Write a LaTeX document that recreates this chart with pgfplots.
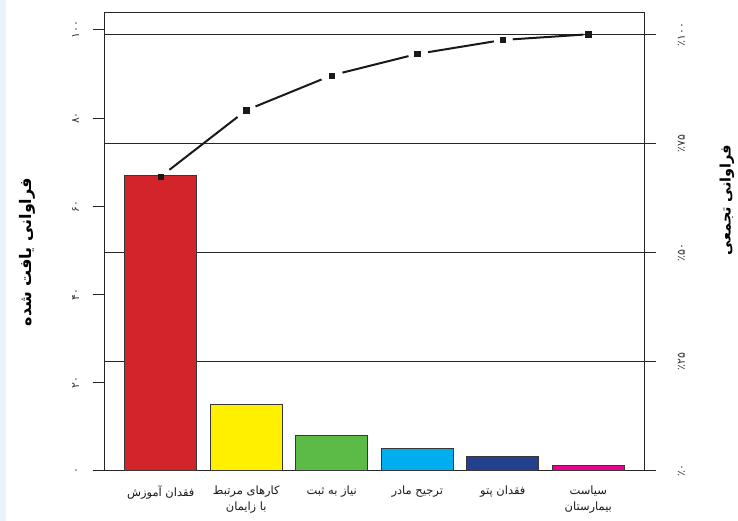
\documentclass[border=0pt]{standalone}
\usepackage{pgfplots}
\pgfplotsset{compat=1.18}
\usepackage{fontspec}
\setmainfont{DejaVu Sans}
\newfontfamily\fa[Script=Arabic]{DejaVu Sans}
\TeXXeTstate=1
\definecolor{cRed}{RGB}{210,36,42}
\definecolor{cYel}{RGB}{255,240,0}
\definecolor{cGrn}{RGB}{92,186,71}
\definecolor{cCya}{RGB}{0,174,239}
\definecolor{cNav}{RGB}{35,64,143}
\definecolor{cMag}{RGB}{236,0,140}
\definecolor{edge}{RGB}{55,55,55}
\definecolor{strip}{RGB}{236,244,251}
\begin{document}
\begin{tikzpicture}
\begin{axis}[
  set layers,
  at={(0,0)}, anchor=south west,
  scale only axis, width=539.6bp, height=458bp,
  xmin=-0.655, xmax=5.655, ymin=0, ymax=103.9,
  axis line style={draw=black!85, line width=0.8bp},
  xtick={0,1,2,3,4,5}, xtick pos=bottom, major x tick style={draw=none},
  xticklabels={
    {\beginR فقدان آموزش\endR},
    {\beginR کارهای مرتبط\endR\\\beginR با زایمان\endR},
    {\beginR نیاز به ثبت\endR},
    {\beginR ترجیح مادر\endR},
    {\beginR فقدان پتو\endR},
    {\beginR سیاست\endR\\\beginR بیمارستان\endR}},
  xticklabel style={font=\fa\fontsize{11.5}{16}\selectfont, align=center, text=black!90},
  ytick={0,20,40,60,80,100}, ytick pos=left,
  yticklabels={۰,۲۰,۴۰,۶۰,۸۰,۱۰۰},
  yticklabel style={font=\fa\fontsize{11}{12}\selectfont, rotate=90, anchor=south, yshift=10bp, text=black!80},
  tick align=outside, major tick length=12bp,
  major y tick style={draw=black!85, line width=0.8bp},
  ylabel={\beginR فراوانی یافت شده\endR},
  ylabel style={font=\fa\bfseries\fontsize{16}{18}\selectfont, at={(axis description cs:0,0.477)}, anchor=center, yshift=77.7bp},
]
\addplot[ybar, bar shift=0pt, bar width=72bp, fill=cRed, draw=edge, line width=0.8bp] coordinates {(0,66.9)};
\addplot[ybar, bar shift=0pt, bar width=72bp, fill=cYel, draw=edge, line width=0.8bp] coordinates {(1,15.1)};
\addplot[ybar, bar shift=0pt, bar width=72bp, fill=cGrn, draw=edge, line width=0.8bp] coordinates {(2,7.9)};
\addplot[ybar, bar shift=0pt, bar width=72bp, fill=cCya, draw=edge, line width=0.8bp] coordinates {(3,5.0)};
\addplot[ybar, bar shift=0pt, bar width=72bp, fill=cNav, draw=edge, line width=0.8bp] coordinates {(4,3.3)};
\addplot[ybar, bar shift=0pt, bar width=72bp, fill=cMag, draw=edge, line width=0.8bp] coordinates {(5,1.2)};
\end{axis}
\begin{axis}[
  set layers,
  at={(0,0)}, anchor=south west,
  scale only axis, width=539.6bp, height=458bp,
  xmin=-0.655, xmax=5.655, ymin=0, ymax=104.95,
  axis x line=none, axis y line*=right,
  axis line style={draw=black!85, line width=0.8bp},
  ytick={0,25,50,75,100},
  yticklabels={٪۰,٪۲۵,٪۵۰,٪۷۵,٪۱۰۰},
  yticklabel style={font=\fa\fontsize{11}{12}\selectfont, rotate=90, anchor=north, yshift=-18bp, text=black!80},
  tick align=outside, major tick length=12bp,
  major y tick style={draw=black!85, line width=0.8bp},
  ymajorgrids, major grid style={draw=black!85, line width=0.8bp},
  ylabel={\beginR فراوانی تجمعی\endR},
  ylabel style={font=\fa\bfseries\fontsize{14.5}{16}\selectfont, at={(axis description cs:1,0.591)}, anchor=center, yshift=-82.7bp},
]
\addplot[black!90, line width=2bp, shorten <=11bp, shorten >=11bp] coordinates {(0,67.4) (1,82.6)};
\addplot[black!90, line width=2bp, shorten <=10bp, shorten >=11bp] coordinates {(1,82.6) (2,90.6)};
\addplot[black!90, line width=2bp, shorten <=11bp, shorten >=9bp] coordinates {(2,90.6) (3,95.5)};
\addplot[black!90, line width=2bp, shorten <=11bp, shorten >=9bp] coordinates {(3,95.5) (4,98.7)};
\addplot[black!90, line width=2bp, shorten <=10bp, shorten >=5bp] coordinates {(4,98.7) (5,100)};
\addplot[only marks, mark=square*, mark size=2.6bp, mark options={fill=black!90, draw=black!90}] coordinates {(0,67.4) (1,82.6) (2,90.6) (3,95.5) (4,98.7) (5,100)};
\end{axis}
\fill[strip] (-104.7bp,-50.3bp) rectangle (-99bp,470.7bp);
\pgfresetboundingbox
\path[use as bounding box] (-104.7bp,-50.3bp) rectangle (633.3bp,470.7bp);
\end{tikzpicture}
\end{document}
